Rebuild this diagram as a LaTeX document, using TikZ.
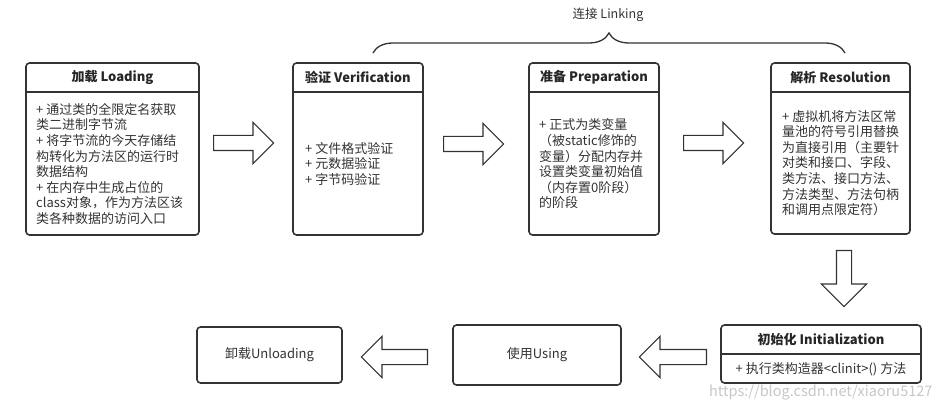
\documentclass[tikz,border=0pt]{standalone}
\usepackage{fontspec}
\setmainfont{Noto Sans CJK SC}
\usetikzlibrary{shapes.arrows, decorations.pathreplacing}
\definecolor{ink}{HTML}{333333}
\tikzstyle{stage} = [rectangle, draw=ink, line width=1.6pt, rounded corners=3.5pt, fill=white]
\tikzstyle{fat} = [single arrow, draw=ink, line width=1.1pt, fill=white, inner sep=7pt,
    minimum height=60pt, single arrow head extend=13pt, single arrow tip angle=90]

\begin{document}
\begin{tikzpicture}[
x = 1pt, y = -1pt,
title/.style = {font=\fontsize{13}{15}\selectfont\bfseries, text=black!85},
body/.style = {font=\fontsize{13}{15.6}\selectfont, text=ink, align=left, anchor=west, inner sep=0pt},
sep/.style = {draw=ink, line width=1.6pt},
brace/.style = {draw=ink, line width=1.3pt, decorate, decoration={brace, amplitude=20pt}}
                        ]
\useasboundingbox (0,0) rectangle (947,411);
% top row
\node [stage, minimum width=173, minimum height=172] (load) at (112.5,149) {};
\node [title] (loadh) at ([yshift=-15pt]load.north) {加载 Loading};
\draw [sep] ([yshift=-30pt]load.north west) -- ([yshift=-30pt]load.north east);
\node [body] (loadb) at (36,164) {+ 通过类的全限定名获取\\类二进制字节流\\+ 将字节流的今天存储结\\构转化为方法区的运行时\\数据结构\\+ 在内存中生成占位的\\class对象，作为方法区该\\类各种数据的访问入口};

\node [stage, minimum width=130, minimum height=172] (verif) at (358,149) {};
\node [title] (verifh) at ([yshift=-15pt]verif.north) {验证 Verification};
\draw [sep] ([yshift=-30pt]verif.north west) -- ([yshift=-30pt]verif.north east);
\node [body] (verifb) at (305,164) {+ 文件格式验证\\+ 元数据验证\\+ 字节码验证};

\node [stage, minimum width=130, minimum height=172] (prep) at (594,149) {};
\node [title] (preph) at ([yshift=-15pt]prep.north) {准备 Preparation};
\draw [sep] ([yshift=-30pt]prep.north west) -- ([yshift=-30pt]prep.north east);
\node [body] (prepb) at (539,164) {+ 正式为类变量\\（被static修饰的\\变量）分配内存并\\设置类变量初始值\\（内存置0阶段）\\的阶段};

\node [stage, minimum width=139, minimum height=171] (resol) at (840.5,148.5) {};
\node [title] (resolh) at ([yshift=-15pt]resol.north) {解析 Resolution};
\draw [sep] ([yshift=-30pt]resol.north west) -- ([yshift=-30pt]resol.north east);
\node [body] (resolb) at (782,163) {+ 虚拟机将方法区常\\量池的符号引用替换\\为直接引用（主要针\\对类和接口、字段、\\类方法、接口方法、\\方法类型、方法句柄\\和调用点限定符）};

% linking brace
\coordinate (lk1) at (373,53);
\coordinate (lk2) at (845,53);
\draw [brace] (lk1) -- (lk2);
\node [font=\fontsize{12.5}{15}\selectfont, text=ink] (link) at (608,15) {连接 Linking};

% bottom row
\node [stage, minimum width=200, minimum height=58] (init) at (821,354) {};
\node [title] (inith) at ([yshift=-15pt]init.north) {初始化 Initialization};
\draw [sep] ([yshift=-30pt]init.north west) -- ([yshift=-30pt]init.north east);
\node [body, anchor=center] (initb) at (821,369) {+ 执行类构造器<clinit>() 方法};

\node [stage, minimum width=168, minimum height=60] (use) at (537,355) {};
\node [body, anchor=center] (useb) at (use) {使用Using};
\node [stage, minimum width=145, minimum height=56] (unload) at (269.5,355) {};
\node [body, anchor=center] (unloadb) at (unload) {卸载Unloading};

% block arrows
\node [fat, anchor=tail] (a1) at (213,143) {};
\node [fat, anchor=tail] (a2) at (443,144) {};
\node [fat, anchor=tail] (a3) at (683,143) {};
\node [fat, anchor=tail, shape border rotate=270, minimum height=56, single arrow head extend=15pt] (a4) at (844,250) {};
\node [fat, anchor=tail, shape border rotate=180, minimum height=67] (a5) at (707,357) {};
\node [fat, anchor=tail, shape border rotate=180, minimum height=66] (a6) at (428,357) {};

\node [text=black!22, font=\fontsize{14.5}{15}\selectfont, anchor=east] (mark) at (936,393) {https://blog.csdn.net/xiaoru5127};
\end{tikzpicture}
\end{document}
